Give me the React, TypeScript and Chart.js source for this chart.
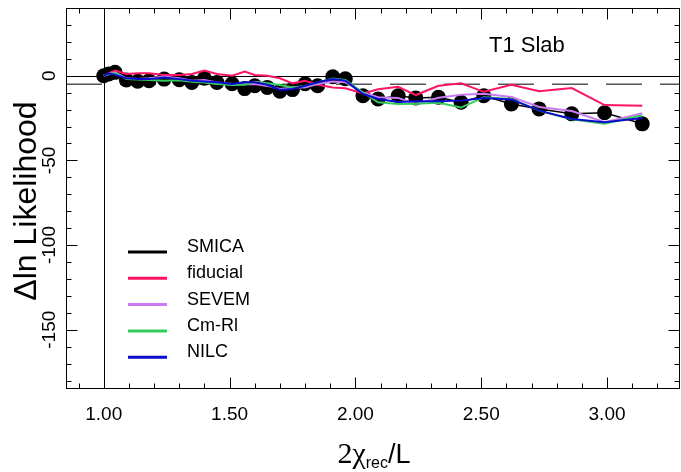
import React, { useEffect, useRef } from "react";
import { Chart, registerables } from "chart.js";

Chart.register(...registerables);

// ---- data ----
const xValues = [
  1.0, 1.02, 1.045, 1.09, 1.135, 1.18, 1.24, 1.3, 1.35, 1.4, 1.45, 1.51, 1.56, 1.6, 1.65, 1.7, 1.75,
  1.8, 1.85, 1.91, 1.96, 2.03, 2.09, 2.17, 2.24, 2.33, 2.42, 2.51, 2.62, 2.73, 2.86, 2.99, 3.14,
];
const smica = [
  0, 1, 2, -2.5, -3.3, -3, -2, -2.4, -4, -1.5, -4, -4.7, -7.6, -5.9, -6.9, -9.2, -8.2, -4.7, -5.9,
  -0.6, -1.8, -11.8, -13.7, -11.8, -13.1, -12.7, -15.7, -11.8, -16.7, -19.6, -22.5, -21.9, -28.4,
];
const fiducial = [
  0, 1.5, 3, 1, 1.5, 1.5, 0.5, 0.5, 1, 3, 1, 0, 2.5, 0.5, 0, -1.5, -4.5, -3, -5.3, -6.9, -7.4, -10.5,
  -8, -6.5, -11.4, -5.9, -4.5, -9.5, -5.3, -9.2, -7.3, -17.3, -17.8,
];
const sevem = [
  0, 1, 2, -1.5, -2, -1.5, -0.5, -1.5, -3, -2.5, -4, -4.9, -5, -4.9, -6, -7.8, -6.9, -6.9, -4.9, -3.4,
  -3.9, -9.8, -12.7, -13.1, -16.7, -13, -11.2, -10.6, -12.5, -18.5, -20.8, -27.5, -22.2,
];
const cmrl = [
  0, 1, 1.5, -2, -2.2, -2.5, -3, -2.7, -3.5, -4, -4.9, -5.5, -5.3, -3.5, -4.5, -5.5, -7, -6, -4, -1.6,
  -2.5, -10, -15.7, -16.7, -16.5, -16, -18.8, -12.7, -13.7, -20.6, -25.7, -28.4, -23.3,
];
const nilc = [
  0, 1.4, 0.5, -1.5, -2, -2, -1, -2, -3, -3.4, -3.9, -4.9, -3.9, -3.9, -5.3, -8.4, -7.8, -5.9, -3.9,
  -2, -3, -10.8, -13.7, -15.5, -15, -15, -14.7, -13.2, -14, -20.6, -25.5, -27.5, -25,
];

const seriesLabels = ["SMICA", "fiducial", "SEVEM", "Cm-Rl", "NILC"];
const xMajorTicks = [1.0, 1.5, 2.0, 2.5, 3.0];
const xTickLabels = ["1.00", "1.50", "2.00", "2.50", "3.00"];
const yMajorTicks = [0, -50, -100, -150];
const yTickLabels = ["0", "-50", "-100", "-150"];
const xMinorStep = 0.1;
const yMinorStep = 10;
const panelTitle = "T1 Slab";
const yAxisTitle = "\u0394ln Likelihood";
const thresholdLine = -5;

const COLORS = ["#000000", "#ff1464", "#c97cf2", "#34cc5c", "#0a0acc"];
const SANS = '"Liberation Sans", Arial, sans-serif';
const SERIF = '"Liberation Serif", "Times New Roman", serif';

const framePlugin = {
  id: "frameDecor",
  beforeDatasetsDraw(chart: any) {
    const { ctx, chartArea: a, scales } = chart;
    const x = scales.x;
    const y = scales.y;
    ctx.save();
    const y0 = Math.round(y.getPixelForValue(0)) + 0.5;
    ctx.strokeStyle = "#000";
    ctx.lineWidth = 1;
    ctx.beginPath();
    ctx.moveTo(a.left, y0);
    ctx.lineTo(a.right, y0);
    ctx.stroke();
    const x1 = Math.round(x.getPixelForValue(1)) + 0.5;
    ctx.beginPath();
    ctx.moveTo(x1, a.top);
    ctx.lineTo(x1, a.bottom);
    ctx.stroke();
    const yd = y.getPixelForValue(thresholdLine);
    ctx.strokeStyle = "#555";
    ctx.lineWidth = 1.5;
    ctx.setLineDash([36, 18]);
    ctx.beginPath();
    ctx.moveTo(a.left, yd);
    ctx.lineTo(a.right, yd);
    ctx.stroke();
    ctx.restore();
  },
  afterDraw(chart: any) {
    const { ctx, chartArea: a, scales } = chart;
    const x = scales.x;
    const y = scales.y;
    ctx.save();
    ctx.strokeStyle = "#000";
    ctx.lineWidth = 1;
    const L = Math.round(a.left) + 0.5;
    const R = Math.round(a.right) - 0.5;
    const T = Math.round(a.top) + 0.5;
    const B = Math.round(a.bottom) - 0.5;
    ctx.strokeRect(L, T, R - L, B - T);

    const MAJ = 11;
    const MIN = 5;
    const xStart = Math.ceil(x.min / xMinorStep - 1e-6);
    const xEnd = Math.floor(x.max / xMinorStep + 1e-6);
    ctx.beginPath();
    for (let i = xStart; i <= xEnd; i++) {
      const v = i * xMinorStep;
      const isMajor = xMajorTicks.some((m) => Math.abs(m - v) < 1e-6);
      const len = isMajor ? MAJ : MIN;
      const px = Math.round(x.getPixelForValue(v)) + 0.5;
      ctx.moveTo(px, B);
      ctx.lineTo(px, B - len);
      ctx.moveTo(px, T);
      ctx.lineTo(px, T + len);
    }
    const yStart = Math.ceil(y.min / yMinorStep - 1e-6);
    const yEnd = Math.floor(y.max / yMinorStep + 1e-6);
    for (let i = yStart; i <= yEnd; i++) {
      const v = i * yMinorStep;
      const isMajor = yMajorTicks.some((m) => Math.abs(m - v) < 1e-6);
      const len = isMajor ? MAJ : MIN;
      const py = Math.round(y.getPixelForValue(v)) + 0.5;
      ctx.moveTo(L, py);
      ctx.lineTo(L + len, py);
      ctx.moveTo(R, py);
      ctx.lineTo(R - len, py);
    }
    ctx.stroke();

    ctx.fillStyle = "#000";
    ctx.font = `19px ${SANS}`;
    ctx.textAlign = "center";
    ctx.textBaseline = "alphabetic";
    xMajorTicks.forEach((v, i) => {
      ctx.fillText(xTickLabels[i], x.getPixelForValue(v), a.bottom + 31);
    });
    yMajorTicks.forEach((v, i) => {
      ctx.save();
      ctx.translate(55, y.getPixelForValue(v));
      ctx.rotate(-Math.PI / 2);
      ctx.fillText(yTickLabels[i], 0, 0);
      ctx.restore();
    });

    ctx.save();
    ctx.font = `32px ${SANS}`;
    ctx.translate(36, 201);
    ctx.rotate(-Math.PI / 2);
    ctx.textAlign = "center";
    ctx.fillText(yAxisTitle, 0, 0);
    ctx.restore();

    const base = 463;
    const parts = [
      { t: "2\u03c7", f: `30px ${SERIF}`, dy: 0 },
      { t: "rec", f: `16px ${SANS}`, dy: 5 },
      { t: "/L", f: `27px ${SANS}`, dy: 0 },
    ];
    let total = 0;
    const widths = parts.map((p) => {
      ctx.font = p.f;
      const w = ctx.measureText(p.t).width;
      total += w;
      return w;
    });
    let cx = 374 - total / 2;
    ctx.textAlign = "left";
    parts.forEach((p, i) => {
      ctx.font = p.f;
      ctx.fillText(p.t, cx, base + p.dy);
      cx += widths[i];
    });

    ctx.font = `22px ${SANS}`;
    ctx.textAlign = "left";
    ctx.fillText(panelTitle, 489, 52);

    const ds = chart.data.datasets;
    ctx.font = `18px ${SANS}`;
    ds.forEach((d: any, i: number) => {
      const ly = 252 + i * 26.3;
      ctx.strokeStyle = d.borderColor;
      ctx.lineWidth = 3;
      ctx.beginPath();
      ctx.moveTo(128, ly);
      ctx.lineTo(167, ly);
      ctx.stroke();
      ctx.fillStyle = "#000";
      ctx.fillText(d.label, 187, ly);
    });
    ctx.restore();
  },
};

function toPoints(ys: number[]) {
  return xValues.map((x, i) => ({ x, y: ys[i] }));
}

export default function App() {
  const ref = useRef<HTMLCanvasElement | null>(null);
  useEffect(() => {
    if (!ref.current) return;
    const series = [smica, fiducial, sevem, cmrl, nilc];
    const chart = new Chart(ref.current, {
      type: "line",
      data: {
        datasets: series.map((s, i) => ({
          label: seriesLabels[i],
          data: toPoints(s),
          borderColor: COLORS[i],
          backgroundColor: COLORS[i],
          borderWidth: i === 0 ? 1.5 : 2,
          pointRadius: i === 0 ? 7.5 : 0,
          pointBorderWidth: 0,
          pointBackgroundColor: COLORS[i],
          tension: 0,
          fill: false,
          order: 5 - i,
        })),
      },
      options: {
        animation: false,
        responsive: false,
        devicePixelRatio: 1,
        layout: { autoPadding: false, padding: { left: 66, right: 1, top: 8, bottom: 83 } },
        plugins: { legend: { display: false }, tooltip: { enabled: false }, title: { display: false } },
        scales: {
          x: { type: "linear", min: 0.85, max: 3.29, display: false },
          y: { type: "linear", min: -185, max: 40, display: false },
        },
      },
      plugins: [framePlugin],
    });
    return () => chart.destroy();
  }, []);
  return (
    <div style={{ position: "absolute", left: 0, top: 0, width: 681, height: 472, background: "#fff" }}>
      <canvas ref={ref} width={681} height={472} style={{ display: "block" }} />
    </div>
  );
}
